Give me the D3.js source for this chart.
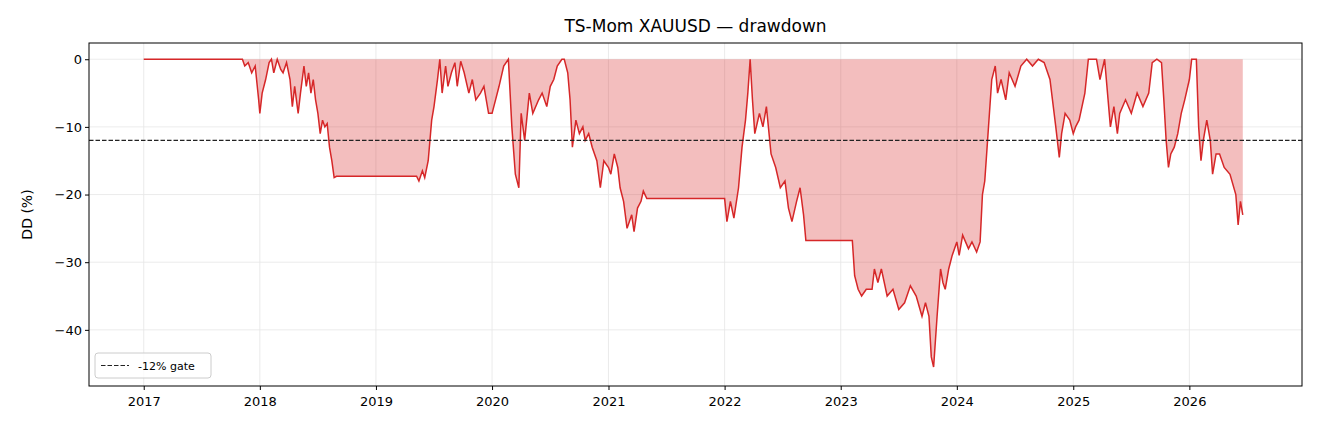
<!DOCTYPE html>
<html><head><meta charset="utf-8">
<script src="https://cdn.jsdelivr.net/npm/d3@7"></script>
<style>body{margin:0;background:#fff}svg{font-family:"DejaVu Sans",sans-serif}.tick text{font-size:13px !important;fill:#000}</style>
</head><body>
<script>
  // decimal year, drawdown %
  var ddYears = [2017.0,2017.85,2017.87,2017.9,2017.93,2017.96,2017.99,2018.0,2018.02,2018.05,2018.08,2018.1,2018.12,2018.15,2018.18,2018.2,2018.23,2018.26,2018.28,2018.3,2018.33,2018.35,2018.38,2018.4,2018.42,2018.44,2018.46,2018.48,2018.5,2018.52,2018.54,2018.56,2018.58,2018.6,2018.62,2018.64,2018.66,2019.35,2019.37,2019.4,2019.42,2019.45,2019.48,2019.5,2019.53,2019.55,2019.57,2019.6,2019.62,2019.65,2019.68,2019.7,2019.73,2019.76,2019.8,2019.83,2019.86,2019.9,2019.93,2019.97,2020.0,2020.03,2020.06,2020.1,2020.14,2020.17,2020.2,2020.23,2020.25,2020.28,2020.32,2020.35,2020.4,2020.43,2020.47,2020.5,2020.53,2020.56,2020.6,2020.62,2020.65,2020.67,2020.69,2020.72,2020.75,2020.78,2020.8,2020.83,2020.86,2020.9,2020.93,2020.96,2021.0,2021.02,2021.05,2021.08,2021.1,2021.13,2021.16,2021.2,2021.22,2021.25,2021.28,2021.3,2021.33,2022.0,2022.02,2022.05,2022.08,2022.12,2022.15,2022.18,2022.2,2022.22,2022.24,2022.26,2022.3,2022.33,2022.36,2022.4,2022.44,2022.48,2022.52,2022.55,2022.58,2022.62,2022.65,2022.68,2022.7,2023.1,2023.12,2023.15,2023.18,2023.22,2023.27,2023.29,2023.32,2023.35,2023.4,2023.45,2023.5,2023.55,2023.6,2023.65,2023.7,2023.73,2023.76,2023.78,2023.8,2023.83,2023.86,2023.88,2023.9,2023.93,2023.96,2024.0,2024.02,2024.05,2024.1,2024.13,2024.17,2024.2,2024.22,2024.24,2024.26,2024.3,2024.33,2024.35,2024.38,2024.42,2024.45,2024.5,2024.55,2024.6,2024.65,2024.7,2024.75,2024.8,2024.85,2024.88,2024.9,2024.93,2024.97,2025.0,2025.02,2025.05,2025.1,2025.13,2025.2,2025.23,2025.27,2025.3,2025.32,2025.35,2025.38,2025.4,2025.45,2025.5,2025.55,2025.6,2025.65,2025.68,2025.72,2025.76,2025.78,2025.8,2025.82,2025.84,2025.87,2025.9,2025.93,2025.96,2026.0,2026.02,2026.06,2026.08,2026.1,2026.12,2026.15,2026.18,2026.2,2026.23,2026.26,2026.3,2026.35,2026.4,2026.42,2026.44,2026.46];
  var ddValues = [0,0,-1,-0.5,-2,-1,-6,-8,-5,-3,-0.5,0,-2,0,-1.5,-2,-0.5,-3,-7,-4,-8,-5,-1,-4,-2,-5,-3,-6,-8,-11,-9,-10,-9.5,-13,-15,-17.5,-17.3,-17.3,-18,-16.5,-17.5,-15,-9,-7,-3,0,-5,-1,-4,-2,-0.5,-4,-0.3,-2,-5,-3,-6,-5,-4,-8,-8,-6,-4,-1,0,-10,-17,-19,-8,-12,-5,-8,-6,-5,-7,-4,-3,-1,0,0,-2,-6,-13,-9,-11,-10,-12,-11,-13,-15,-19,-15,-16,-17,-14,-16,-19,-21,-25,-23,-25.5,-22,-21,-19.5,-20.6,-20.6,-24,-21,-23.5,-19,-13,-9,-5,0,-6,-11,-8,-10,-7,-14,-16,-19,-18,-22,-24,-21,-19,-23,-26.8,-26.8,-32,-34,-35,-34,-34,-31,-33,-31,-35,-34,-37,-36,-33.5,-35,-38,-36,-38,-44,-45.5,-38,-31,-33,-34,-31,-29,-27,-29,-26,-28,-27,-28.5,-27,-20,-18,-13,-3,-1,-5,-3,-6,-2,-4,-1,0,-1,0,-0.5,-3,-10,-14.5,-11,-8,-9,-11,-10,-9,-5,0,0,-3,0,-6,-10,-7,-11,-8,-6,-8,-5,-7,-5,-0.5,0,-0.5,-6,-12,-16,-14,-13,-11,-8,-6,-3,0,0,-10,-15,-12,-9,-12,-17,-14,-14,-16,-17,-20,-24.5,-21,-23];
  var yTicks = [0, -10, -20, -30, -40];
  var xTickYears = [2017,2018,2019,2020,2021,2022,2023,2024,2025,2026];
  var gate = -12;

  function toDate(y) {
    var yr = Math.floor(y), s = new Date(yr, 0, 1), e = new Date(yr + 1, 0, 1);
    return new Date(+s + (y - yr) * (e - s));
  }
  var data = ddYears.map(function(y, i) { return {d: toDate(y), v: ddValues[i]}; });

  var W = 1320, H = 432, m = {l: 89, r: 18, t: 43, b: 46};
  var svg = d3.select("body").append("svg").attr("width", W).attr("height", H);

  var x = d3.scaleTime().domain([toDate(2016.53), toDate(2026.97)]).range([m.l, W - m.r]);
  var y = d3.scaleLinear().domain([-48.3, 2.4]).range([H - m.b, m.t]);

  var g = svg.append("g");
  // grid
  g.selectAll("line.gx").data(xTickYears).enter().append("line")
    .attr("x1", function(d){return x(toDate(d));}).attr("x2", function(d){return x(toDate(d));})
    .attr("y1", m.t).attr("y2", H - m.b).attr("stroke", "#e6e6e6").attr("stroke-width", 0.8);
  g.selectAll("line.gy").data(yTicks).enter().append("line")
    .attr("x1", m.l).attr("x2", W - m.r)
    .attr("y1", function(d){return y(d);}).attr("y2", function(d){return y(d);})
    .attr("stroke", "#e6e6e6").attr("stroke-width", 0.8);

  var area = d3.area().x(function(d){return x(d.d);}).y0(y(0)).y1(function(d){return y(d.v);});
  var line = d3.line().x(function(d){return x(d.d);}).y(function(d){return y(d.v);});
  g.append("path").datum(data).attr("d", area).attr("fill", "#d62728").attr("fill-opacity", 0.3);
  g.append("path").datum(data).attr("d", line).attr("fill", "none").attr("stroke", "#d62728").attr("stroke-width", 1.5);

  g.append("line").attr("x1", m.l).attr("x2", W - m.r).attr("y1", y(gate)).attr("y2", y(gate))
    .attr("stroke", "#222").attr("stroke-width", 1.2).attr("stroke-dasharray", "4.5,2");

  // axes
  svg.append("g").attr("transform", "translate(0," + (H - m.b) + ")")
    .call(d3.axisBottom(x).tickValues(xTickYears.map(toDate)).tickFormat(d3.timeFormat("%Y")).tickSizeOuter(0).tickSize(4))
    .call(function(a){a.attr("font-family", null).attr("font-size", null);a.selectAll("text").attr("dy", "1em");a.select(".domain").remove();});
  svg.append("g").attr("transform", "translate(" + m.l + ",0)")
    .call(d3.axisLeft(y).tickValues(yTicks).tickFormat(function(d){return d < 0 ? "\u2212" + (-d) : d;}).tickSizeOuter(0).tickSize(4))
    .call(function(a){a.attr("font-family", null).attr("font-size", null);a.select(".domain").remove();});
  svg.append("rect").attr("x", m.l).attr("y", m.t).attr("width", W - m.r - m.l).attr("height", H - m.b - m.t)
    .attr("fill", "none").attr("stroke", "#000").attr("stroke-width", 1);

  svg.append("text").attr("x", (m.l + W - m.r) / 2).attr("y", 32).attr("text-anchor", "middle")
    .attr("font-size", 17).text("TS-Mom XAUUSD \u2014 drawdown");
  svg.append("text").attr("transform", "translate(32," + ((m.t + H - m.b) / 2) + ") rotate(-90)")
    .attr("text-anchor", "middle").attr("font-size", 14).text("DD (%)");

  // legend
  var lg = svg.append("g").attr("transform", "translate(95,353)");
  lg.append("rect").attr("width", 116).attr("height", 25).attr("rx", 3).attr("fill", "#fff")
    .attr("fill-opacity", 0.8).attr("stroke", "#ccc");
  lg.append("line").attr("x1", 6).attr("x2", 34).attr("y1", 12.5).attr("y2", 12.5)
    .attr("stroke", "#222").attr("stroke-width", 1.2).attr("stroke-dasharray", "4.5,2");
  lg.append("text").attr("x", 43).attr("y", 17).attr("font-size", 11).text("-12% gate");
</script>
</body></html>
